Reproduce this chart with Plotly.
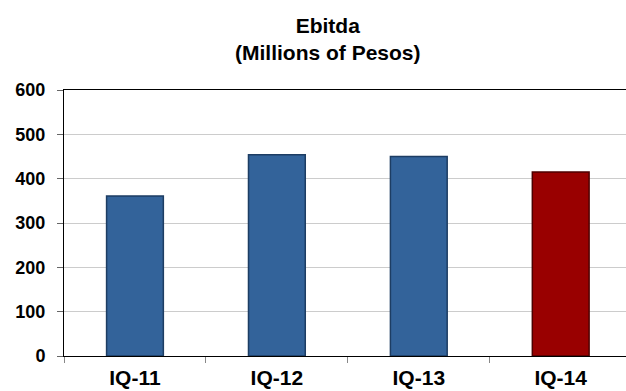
import plotly.graph_objects as go

categories = ["IQ-11", "IQ-12", "IQ-13", "IQ-14"]
ebitda = [361, 454, 450, 415]
bar_colors = ["#33639a", "#33639a", "#33639a", "#990000"]
line_colors = ["#1d3d63", "#1d3d63", "#1d3d63", "#4d0000"]
y_ticks = [0, 100, 200, 300, 400, 500, 600]
title_text = "Ebitda<br>(Millions of Pesos)"

fig = go.Figure(go.Bar(
    x=categories, y=ebitda,
    marker=dict(color=bar_colors, line=dict(color=line_colors, width=1.5)),
    width=0.4,
))

fig.update_layout(
    width=626, height=391,
    margin=dict(l=64, r=0, t=90, b=35),
    paper_bgcolor="white", plot_bgcolor="white",
    showlegend=False,
    font=dict(family="Liberation Sans, Arial", color="black"),
    annotations=[dict(
        text=title_text, xref="paper", yref="paper", x=0.47, y=1.295,
        xanchor="center", yanchor="top", showarrow=False,
        font=dict(family="Liberation Sans, Arial", size=21, color="black", weight="bold"),
    )],
)
fig.update_xaxes(
    range=[-0.5, 3.46], showline=True, linecolor="black", linewidth=1, mirror=True,
    ticks="outside", tickson="boundaries", ticklen=6, tickcolor="#888888",
    tickfont=dict(size=21, weight="bold", color="black"),
    ticklabelstandoff=3,
    showgrid=False,
)
fig.update_yaxes(
    range=[0, 600], tickvals=y_ticks, showline=True, linecolor="black", linewidth=1,
    ticks="outside", ticklen=6, tickcolor="#666666",
    gridcolor="#cccccc", gridwidth=1,
    tickfont=dict(size=18, weight="bold", color="black"),
    ticklabelstandoff=8,
    zeroline=False,
)

fig.write_html("out.html")
